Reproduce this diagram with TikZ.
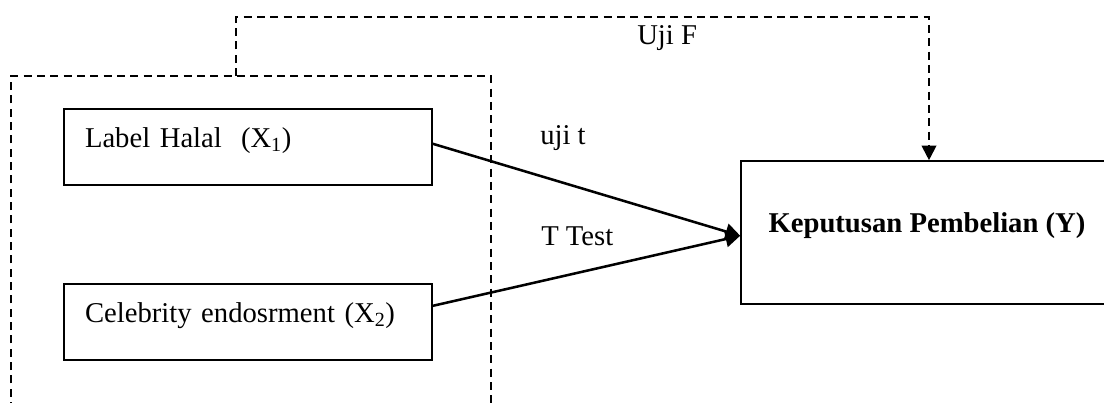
\documentclass[tikz,border=0pt]{standalone}
\usepackage{fontspec}
\setmainfont{Liberation Serif}
\usetikzlibrary{arrows.meta}
\tikzset{
  varbox/.style={draw, line width=1.2pt, text height=15pt, text depth=15pt},
  dashline/.style={line width=1.5pt, dash pattern={on 6pt off 4pt}},
  arr/.style={line width=1.9pt, -{Triangle[length=11pt,width=12pt]}},
  lbl/.style={anchor=base west, inner sep=0pt}
}
\begin{document}
\begin{tikzpicture}[x=0.75pt,y=0.75pt,yscale=-1,xscale=1]
\fontsize{21.5}{25}\selectfont
\useasboundingbox (0,0) rectangle (1104,403);

%=====Kotak variabel=======
\node [varbox, minimum width=276pt, minimum height=57pt, text width=244.5pt, inner xsep=15.75pt, align=left] (lh) at (248,147) {Label Halal \ (X\textsubscript{1})};

\node [varbox, minimum width=276pt, minimum height=57pt, text width=244.5pt, inner xsep=15.75pt, align=left] (ce) at (248,322) {Celebrity endosrment (X\textsubscript{2})};

\node [varbox, minimum width=279pt, minimum height=107.25pt] (kp) at (927,232.5) {\bfseries Keputusan Pembelian (Y)};

%=====Garis putus-putus=======
\draw [dashline] (11,410) -- (11,76) -- (491,76) -- (491,410) ;

\coordinate (fl) at (236,76);
\coordinate (ft) at (929,17);
\draw [dashline, -{Triangle[length=11pt,width=11pt]}] (fl) -- (fl |- ft) -- (ft) -- (ft |- kp.north) ;

%=====Panah uji t=======
\draw [arr] (lh.1.9) -- (kp.181.7) ;
\draw [arr] (ce.5.6) -- (kp.181.7) ;

%======Label=========
\node [lbl] (ujit) at (540,145) {uji t};
\node [lbl] (ttest) at (541,245) {T Test};
\node [lbl] (ujif) at (637,45) {Uji F};

\end{tikzpicture}
\end{document}
